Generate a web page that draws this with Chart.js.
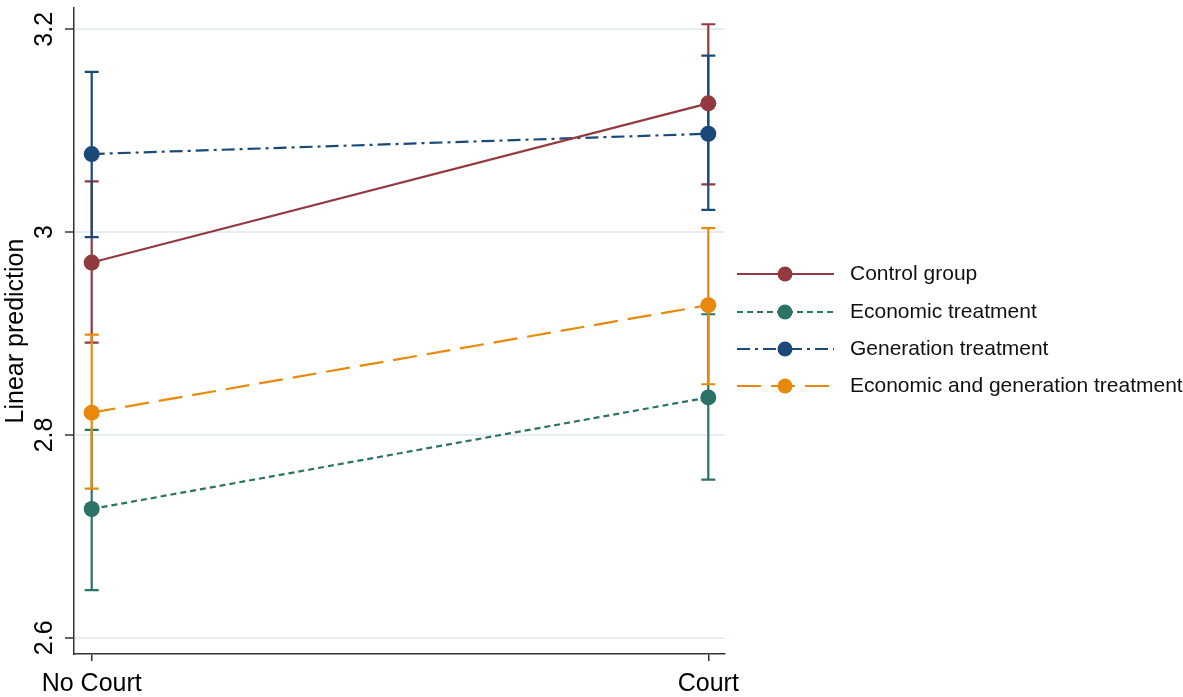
<!DOCTYPE html>
<html>
<head>
<meta charset="utf-8">
<script src="https://cdn.jsdelivr.net/npm/chart.js@4"></script>
<style>
  html, body { margin: 0; padding: 0; background: #fff; }
  #wrap { width: 1183px; height: 697px; position: relative; }
</style>
</head>
<body>
<div id="wrap"><canvas id="chartMargins"></canvas></div>
<script>
/* marginsplot style chart: linear prediction by court condition */

const categories = ["No Court", "Court"];
const yTicks = [2.6, 2.8, 3.0, 3.2];

const seriesNames = [
  "Control group",
  "Economic treatment",
  "Generation treatment",
  "Economic and generation treatment",
];

const controlMean = [2.970, 3.127];
const controlLo = [2.891, 3.047];
const controlHi = [3.050, 3.205];

const econMean = [2.727, 2.837];
const econLo = [2.647, 2.756];
const econHi = [2.805, 2.919];

const genMean = [3.077, 3.097];
const genLo = [2.995, 3.022];
const genHi = [3.158, 3.174];

const bothMean = [2.822, 2.928];
const bothLo = [2.747, 2.850];
const bothHi = [2.899, 3.004];

const FONT = "'Liberation Sans', Arial, Helvetica, sans-serif";

const styles = [
  { color: "#923a40", dash: [] },
  { color: "#2c7367", dash: [6, 4] },
  { color: "#1b4a78", dash: [13, 5, 3, 5] },
  { color: "#e8890c", dash: [24, 10] },
];

const means = [controlMean, econMean, genMean, bothMean];
const los = [controlLo, econLo, genLo, bothLo];
const his = [controlHi, econHi, genHi, bothHi];

/* confidence interval caps, drawn under the lines */
const ciPlugin = {
  id: "ciCaps",
  beforeDatasetsDraw(chart) {
    const { ctx, scales: { x, y } } = chart;
    ctx.save();
    ctx.lineWidth = 2.2;
    ctx.setLineDash([]);
    means.forEach((m, s) => {
      ctx.strokeStyle = styles[s].color;
      m.forEach((_, i) => {
        const px = x.getPixelForValue(i);
        const yl = y.getPixelForValue(los[s][i]);
        const yh = y.getPixelForValue(his[s][i]);
        ctx.beginPath();
        ctx.moveTo(px, yl);
        ctx.lineTo(px, yh);
        ctx.moveTo(px - 7, yl);
        ctx.lineTo(px + 7, yl);
        ctx.moveTo(px - 7, yh);
        ctx.lineTo(px + 7, yh);
        ctx.stroke();
      });
    });
    ctx.restore();
  },
};

/* legend on the right: line sample with marker in the middle */
const legendPlugin = {
  id: "sideLegend",
  afterDraw(chart) {
    const ctx = chart.ctx;
    const rows = [274, 312, 349, 386];
    ctx.save();
    seriesNames.forEach((name, s) => {
      const yy = rows[s];
      ctx.strokeStyle = styles[s].color;
      ctx.lineWidth = 2.2;
      ctx.setLineDash(styles[s].dash);
      ctx.beginPath();
      ctx.moveTo(737, yy);
      ctx.lineTo(834, yy);
      ctx.stroke();
      ctx.setLineDash([]);
      ctx.fillStyle = styles[s].color;
      ctx.beginPath();
      ctx.arc(785, yy, 7.5, 0, Math.PI * 2);
      ctx.fill();
      ctx.fillStyle = "#111";
      ctx.font = "21px " + FONT;
      ctx.textBaseline = "middle";
      ctx.textAlign = "left";
      ctx.fillText(name, 850, yy);
    });
    ctx.restore();
  },
};

const ctx = document.getElementById("chartMargins");
new Chart(ctx, {
  type: "line",
  data: {
    datasets: means.map((m, s) => ({
      label: seriesNames[s],
      data: m.map((v, i) => ({ x: i, y: v })),
      borderColor: styles[s].color,
      backgroundColor: styles[s].color,
      borderDash: styles[s].dash,
      borderWidth: 2.2,
      pointRadius: 8,
      pointHoverRadius: 8,
      pointBorderWidth: 0,
      tension: 0,
      fill: false,
      clip: false,
    })),
  },
  options: {
    responsive: true,
    maintainAspectRatio: false,
    animation: false,
    layout: { padding: { top: 3, right: 458, left: 0, bottom: 0 } },
    scales: {
      x: {
        type: "linear",
        min: -0.0287,
        max: 1.0271,
        afterBuildTicks: (s) => { s.ticks = categories.map((_, i) => ({ value: i })); },
        afterFit: (s) => {
          s.height = 43;
          s.paddingLeft = 0;
          s.paddingRight = 0;
        },
        ticks: {
          callback: (v) => categories[v],
          color: "#000",
          font: { family: FONT, size: 25 },
          padding: 8,
          maxRotation: 0,
        },
        grid: { display: true, drawOnChartArea: false, tickLength: 7, color: "#333", lineWidth: 1.5 },
        border: { display: true, color: "#333", width: 1.5 },
      },
      y: {
        min: 2.584,
        max: 3.221,
        afterBuildTicks: (s) => { s.ticks = yTicks.map((v) => ({ value: v })); },
        afterFit: (s) => {
          s.width = 74;
          s.paddingTop = 0;
          s.paddingBottom = 0;
        },
        ticks: {
          callback: (v) => String(v),
          color: "#000",
          font: { family: FONT, size: 25 },
          minRotation: 90,
          maxRotation: 90,
          crossAlign: "center",
          padding: 3,
        },
        grid: {
          color: "#e6eef3",
          lineWidth: 2,
          tickColor: "#333",
          tickLength: 9,
          tickWidth: 1.5,
        },
        border: { display: true, color: "#333", width: 1.5 },
        title: {
          display: true,
          text: "Linear prediction",
          color: "#000",
          font: { family: FONT, size: 25 },
          padding: { top: 1, bottom: 0 },
        },
      },
    },
    plugins: {
      legend: { display: false },
      tooltip: { enabled: false },
    },
  },
  plugins: [ciPlugin, legendPlugin],
});
</script>
</body>
</html>
